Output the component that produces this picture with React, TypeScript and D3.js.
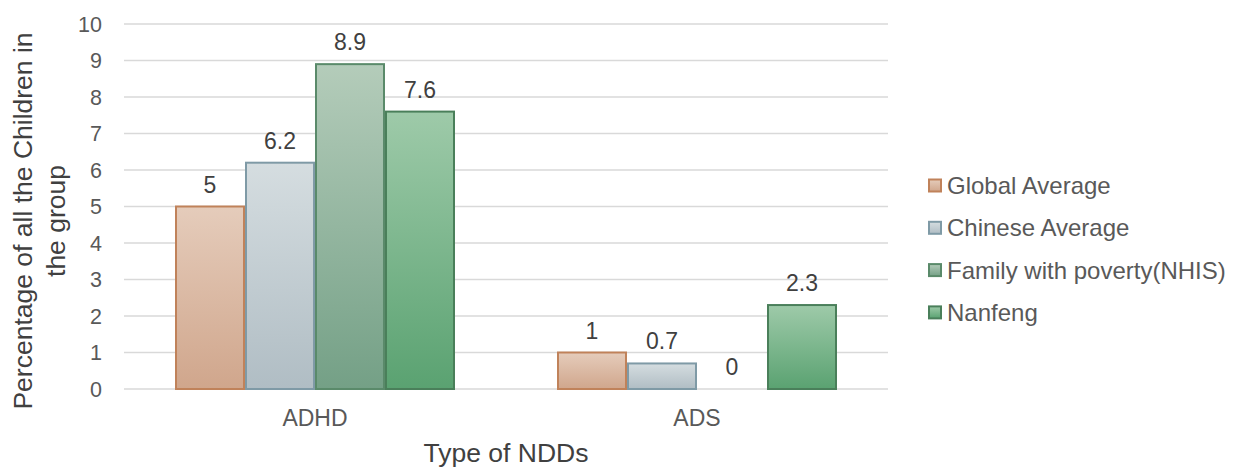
import React from "react";
import * as d3 from "d3";

const categories = ["ADHD", "ADS"];
const seriesNames = ["Global Average", "Chinese Average", "Family with poverty(NHIS)", "Nanfeng"];
const globalAvg = [5, 1];
const chineseAvg = [6.2, 0.7];
const familyPoverty = [8.9, 0];
const nanfeng = [7.6, 2.3];
const yTicks = [0, 1, 2, 3, 4, 5, 6, 7, 8, 9, 10];

const seriesValues = [globalAvg, chineseAvg, familyPoverty, nanfeng];
const fills = [
  { top: "#e5ccbb", bottom: "#d0a68c", stroke: "#c0825a" },
  { top: "#d5dde0", bottom: "#b0bdc4", stroke: "#7f9aa6" },
  { top: "#b4ccba", bottom: "#74a086", stroke: "#5a8a6a" },
  { top: "#9ecaa9", bottom: "#5aa271", stroke: "#4a7f5a" },
];

export default function App() {
  const W = 1234, H = 469;
  const left = 124, right = 888, top = 24, bottom = 389;
  const y = d3.scaleLinear().domain([0, 10]).range([bottom, top]);
  const x0 = d3.scaleBand().domain(categories).range([left, right]).paddingInner(0).paddingOuter(0);
  const groupW = 280;
  const barW = groupW / 4;
  const font = "Arial, 'Liberation Sans', sans-serif";

  return (
    <svg width={W} height={H} style={{ position: "absolute", left: 0, top: 0, background: "#fff" }} fontFamily={font}>
      <defs>
        {fills.map((f, i) => (
          <linearGradient key={i} id={`g${i}`} x1="0" y1="0" x2="0" y2="1">
            <stop offset="0%" stopColor={f.top} />
            <stop offset="100%" stopColor={f.bottom} />
          </linearGradient>
        ))}
      </defs>
      {yTicks.map((t) => (
        <g key={t}>
          <line x1={left} x2={right} y1={y(t)} y2={y(t)} stroke="#d9d9d9" strokeWidth={1.5} />
          <text x={102} y={y(t)} dy="0.35em" textAnchor="end" fontSize={21.5} fill="#595959">{t}</text>
        </g>
      ))}
      {categories.map((c, ci) => {
        const cx = (x0(c) as number) + x0.bandwidth() / 2;
        const gx = cx - groupW / 2;
        return (
          <g key={c}>
            {seriesValues.map((vals, si) => {
              const v = vals[ci];
              const bx = gx + si * barW;
              const by = y(v);
              return (
                <g key={si}>
                  {v > 0 && (
                    <rect x={bx + 1} y={by} width={barW - 2} height={bottom - by}
                      fill={`url(#g${si})`} stroke={fills[si].stroke} strokeWidth={2} />
                  )}
                  <text x={bx + barW / 2} y={by - 14} textAnchor="middle" fontSize={23} fill="#404040">{v}</text>
                </g>
              );
            })}
            <text x={cx} y={418} dy="0.35em" textAnchor="middle" fontSize={23} fill="#595959">{c}</text>
          </g>
        );
      })}
      <text x={(left + right) / 2} y={453} dy="0.35em" textAnchor="middle" fontSize={26.5} fill="#404040">Type of NDDs</text>
      <g transform={`translate(0, 221) rotate(-90)`}>
        <text x={0} y={32} textAnchor="middle" fontSize={26.5} fill="#404040">Percentage of all the Children in</text>
        <text x={0} y={65} textAnchor="middle" fontSize={26.5} fill="#404040">the group</text>
      </g>
      {seriesNames.map((n, i) => {
        const ly = 185.5 + i * 42.3;
        return (
          <g key={n}>
            <rect x={929} y={ly - 6} width={12} height={12} fill={`url(#g${i})`} stroke={fills[i].stroke} strokeWidth={2} />
            <text x={947} y={ly} dy="0.35em" fontSize={24} fill="#595959">{n}</text>
          </g>
        );
      })}
    </svg>
  );
}
